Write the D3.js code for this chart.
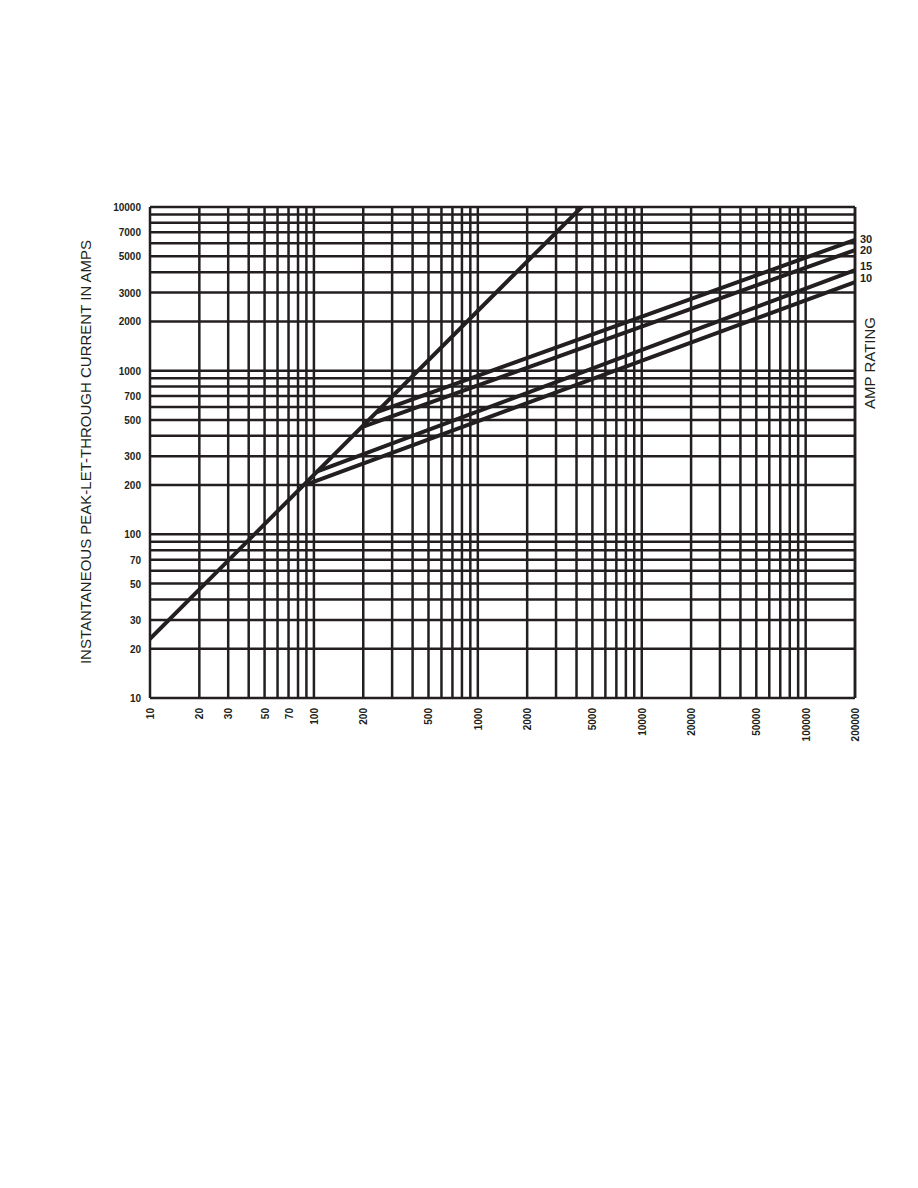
<!DOCTYPE html>
<html><head><meta charset="utf-8">
<script src="https://cdn.jsdelivr.net/npm/d3@7"></script>
<style>body{margin:0;background:#fff}</style></head>
<body><svg id="c" width="918" height="1188"></svg>
<script>
const xTickLabels=[10,20,30,50,70,100,200,500,1000,2000,5000,10000,20000,50000,100000,200000];
const yTickLabels=[10,20,30,50,70,100,200,300,500,700,1000,2000,3000,5000,7000,10000];
const diagonal=[[10,23],[4300,10000]];
const amp30=[[245,560],[200000,6300]];
const amp20=[[200,455],[200000,5460]];
const amp15=[[106,243],[200000,4120]];
const amp10=[[93,204],[200000,3475]];
const ampNames=["30","20","15","10"];

const col="#231f20";
const svg=d3.select("#c");
const x=d3.scaleLog().domain([10,200000]).range([150,855]);
const y=d3.scaleLog().domain([10,10000]).range([698,207]);
const xGrid=[],yGrid=[];
for(let d=10;d<=100000;d*=10)for(let k=1;k<10;k++){if(d*k<=200000)xGrid.push(d*k);}
xGrid.push(200000);
for(let d=10;d<=1000;d*=10)for(let k=1;k<10;k++)yGrid.push(d*k);
yGrid.push(10000);
const g=svg.append("g");
g.selectAll("line.v").data(xGrid).join("line").attr("x1",d=>x(d)).attr("x2",d=>x(d)).attr("y1",207).attr("y2",698).attr("stroke",col).attr("stroke-width",2.5);
g.selectAll("line.h").data(yGrid).join("line").attr("y1",d=>y(d)).attr("y2",d=>y(d)).attr("x1",150).attr("x2",855).attr("stroke",col).attr("stroke-width",2.5);
const line=d3.line().x(d=>x(d[0])).y(d=>y(d[1]));
svg.append("clipPath").attr("id","cp").append("rect").attr("x",150).attr("y",207).attr("width",705).attr("height",491);
[diagonal,amp30,amp20,amp15,amp10].forEach(s=>{
  svg.append("path").attr("d",line(s)).attr("fill","none").attr("stroke",col).attr("stroke-width",4).attr("stroke-linecap","round").attr("clip-path","url(#cp)");
});
const font="'Liberation Sans', Arial, sans-serif";
svg.selectAll("text.y").data(yTickLabels).join("text").attr("x",141).attr("y",d=>y(d)+4).attr("text-anchor","end")
  .attr("font-family",font).attr("font-weight","bold").attr("font-size",10).attr("fill",col).text(d=>d);
svg.selectAll("text.x").data(xTickLabels).join("text")
  .attr("transform",d=>`translate(${x(d)+4},708) rotate(-90)`).attr("text-anchor","end")
  .attr("font-family",font).attr("font-weight","bold").attr("font-size",10).attr("fill",col).text(d=>d);
const labY=[239,250,266,278];
ampNames.forEach((n,i)=>{
  svg.append("text").attr("x",860).attr("y",labY[i]+4).attr("font-family",font).attr("font-weight","bold").attr("font-size",11).attr("fill",col).text(n);
});
svg.append("text").attr("transform","translate(875,409) rotate(-90)").attr("font-family",font).attr("font-size",15).attr("fill",col).text("AMP RATING");
svg.append("text").attr("transform","translate(91,452) rotate(-90)").attr("text-anchor","middle").attr("font-family",font).attr("font-size",15).attr("fill",col).text("INSTANTANEOUS PEAK-LET-THROUGH CURRENT IN AMPS");
</script></body></html>
